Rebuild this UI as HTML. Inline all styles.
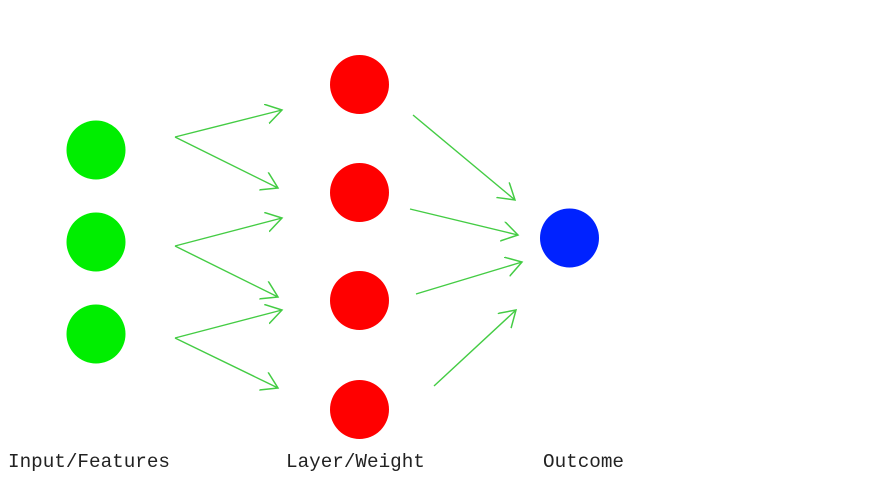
<!DOCTYPE html>
<html><head><style>
html,body{margin:0;padding:0;background:#fff;}
svg{display:block;}
text{font-family:"Liberation Mono",monospace;font-size:19.3px;fill:#222;}
</style></head><body>
<svg width="880" height="495" viewBox="0 0 880 495" xmlns="http://www.w3.org/2000/svg">
<defs>
<marker id="a" markerWidth="22" markerHeight="22" refX="16" refY="10" orient="auto" markerUnits="userSpaceOnUse">
<path d="M0,0 L16,10 L0,20" fill="none" stroke="#44cc44" stroke-width="1.5"/>
</marker>
</defs>
<g fill="#00ee00">
<circle cx="96" cy="150" r="29.5"/>
<circle cx="96" cy="242" r="29.5"/>
<circle cx="96" cy="334" r="29.5"/>
</g>
<g fill="#ff0000">
<circle cx="359.5" cy="84.5" r="29.5"/>
<circle cx="359.5" cy="192.5" r="29.5"/>
<circle cx="359.5" cy="300.5" r="29.5"/>
<circle cx="359.5" cy="409.5" r="29.5"/>
</g>
<circle cx="569.5" cy="238" r="29.5" fill="#0022ff"/>
<g stroke="#44cc44" stroke-width="1.4" fill="none" marker-end="url(#a)">
<line x1="175" y1="137" x2="282" y2="110"/>
<line x1="175" y1="137" x2="278" y2="188"/>
<line x1="175" y1="246" x2="282" y2="218"/>
<line x1="175" y1="246" x2="278" y2="297"/>
<line x1="175" y1="338" x2="282" y2="310"/>
<line x1="175" y1="338" x2="278" y2="388"/>
<line x1="413" y1="115" x2="515" y2="200"/>
<line x1="410" y1="209" x2="518" y2="235"/>
<line x1="416" y1="294" x2="522" y2="262"/>
<line x1="434" y1="386" x2="516" y2="310"/>
</g>
<text x="8" y="467">Input/Features</text>
<text x="286" y="467">Layer/Weight</text>
<text x="543" y="467">Outcome</text>
</svg>
</body></html>
